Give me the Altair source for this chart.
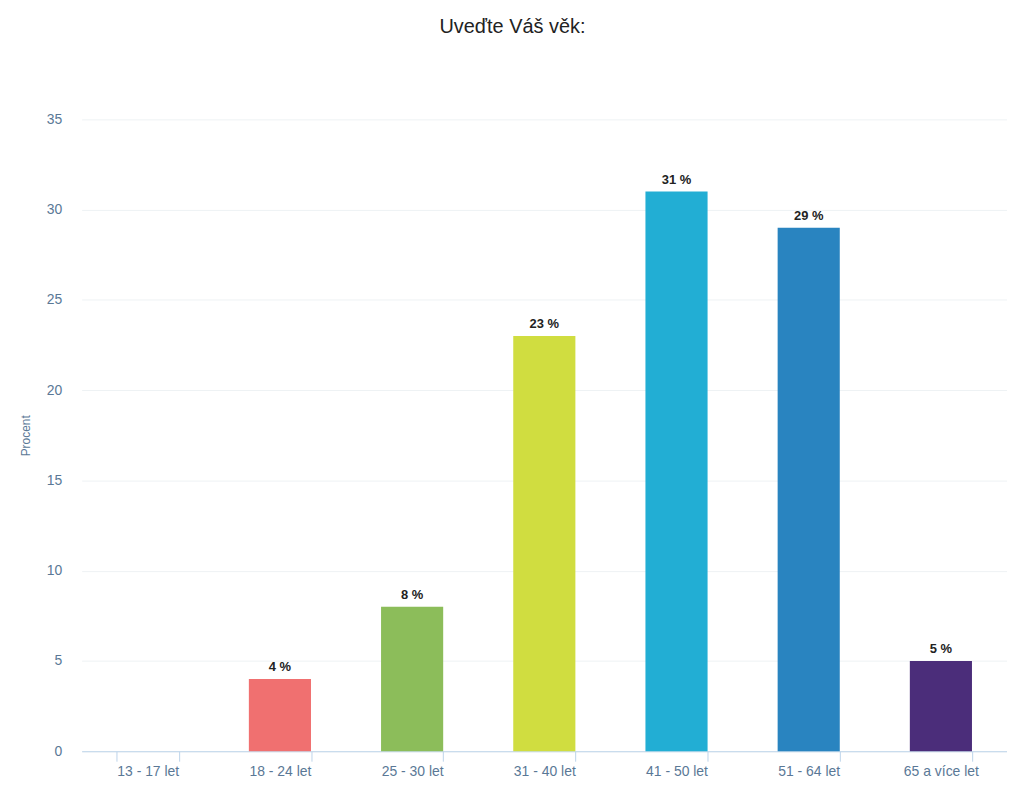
import altair as alt
import pandas as pd

categories = ["13 - 17 let", "18 - 24 let", "25 - 30 let", "31 - 40 let", "41 - 50 let", "51 - 64 let", "65 a více let"]
values = [0, 4, 8, 23, 31, 29, 5]
colors = ["#f4a261", "#f07070", "#8cbd5a", "#d0dd40", "#22aed4", "#2984c0", "#4b2d7a"]

df = pd.DataFrame({"kat": categories, "procent": values})
df["label"] = df["procent"].astype(str) + " %"

x = alt.X("kat:N", sort=categories, title=None,
          scale=alt.Scale(paddingInner=0.53, paddingOuter=0.265),
          axis=alt.Axis(labelAngle=0, labelColor="#5a7896", labelFont="Liberation Sans",
                        labelFontSize=14, labelPadding=3, domainColor="#bcd4ea",
                        tickColor="#bcd4ea", tickSize=10, tickBand="extent", grid=False))
y = alt.Y("procent:Q", title="Procent",
          scale=alt.Scale(domain=[0, 35]),
          axis=alt.Axis(values=[0, 5, 10, 15, 20, 25, 30, 35], labelColor="#5a7896",
                        labelFont="Liberation Sans", labelFontSize=14, labelPadding=20,
                        domain=False, ticks=False, gridColor="#eef2f4",
                        titleColor="#5a7896", titleFont="Liberation Sans", titleFontSize=12,
                        titleFontWeight="normal", titlePadding=14))

bars = alt.Chart(df).mark_bar().encode(
    x=x, y=y,
    color=alt.Color("kat:N", sort=categories,
                    scale=alt.Scale(domain=categories, range=colors), legend=None),
)

text = alt.Chart(df).transform_filter("datum.procent > 0").mark_text(
    dy=-12, fontWeight="bold", fontSize=13, font="Liberation Sans", color="#222222"
).encode(x=alt.X("kat:N", sort=categories), y="procent:Q", text="label:N")

chart = (bars + text).properties(
    width=930, height=635,
    title=alt.TitleParams("Uveďte Váš věk:", fontSize=20, font="Liberation Sans",
                          fontWeight="normal", color="#222222", anchor="middle",
                          dx=-32, offset=76),
    autosize=alt.AutoSizeParams(type="none"),
    padding={"left": 74, "top": 110, "right": 0, "bottom": 32},
).configure_view(stroke=None)

chart.save("out.html", embed_options={"renderer": "svg", "actions": False})
